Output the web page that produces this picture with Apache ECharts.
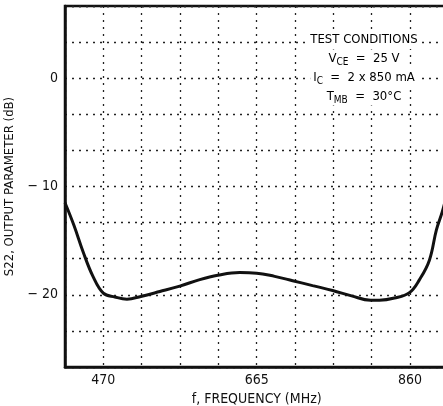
<!DOCTYPE html>
<html>
<head>
<meta charset="utf-8">
<script src="https://cdn.jsdelivr.net/npm/echarts@6/dist/echarts.min.js"></script>
<style>
html,body{margin:0;padding:0;background:#fff;}
#c{width:443px;height:406px;}
</style>
</head>
<body>
<div id="c"></div>
<script>
// ---- data ----
const freqMHz = [421.25, 432.7, 444.1, 456.8, 470, 484.7, 500, 517.7, 541.8, 567.2, 592.6, 615.5, 643.4, 665, 687.8, 710.7, 736, 761.5, 785.6, 809.7, 821.1, 840.2, 859.2, 872, 884.6, 893.5, 901.1, 907.5];
const s22dB   = [-11.5, -13.6, -16.0, -18.3, -19.85, -20.2, -20.4, -20.15, -19.7, -19.2, -18.6, -18.2, -17.95, -18.0, -18.3, -18.7, -19.15, -19.6, -20.1, -20.5, -20.5, -20.3, -19.8, -18.6, -16.8, -14.0, -12.3, -10.5];
const xTickLabels = [470, 665, 860];
const yTickLabels = [0, -10, -20];
const conditions = ['TEST CONDITIONS', 'VCE = 25 V', 'IC = 2 x 850 mA', 'TMB = 30°C'];

// axis extents (grid: 10 x 10 cells)
const xMin = 421.25, xStep = 48.75, xMax = xMin + 10 * xStep;
const yStep = 10 / 3, yMin = -8 * yStep, yMax = 2 * yStep;

const FONT = "'Liberation Sans Narrow', 'DejaVu Sans Condensed', 'Arial Narrow', sans-serif";
const INK = '#111';

const chart = echarts.init(document.getElementById('c'), null, {renderer: 'canvas'});

const richText = {
  n: {fontSize: 13, fontFamily: FONT, color: INK, lineHeight: 16},
  s: {fontSize: 10, fontFamily: FONT, color: INK, lineHeight: 16, padding: [7, 0, 0, 0]}
};

function condLine(label) {
  const m = label.match(/^(V|I|T)(CE|C|MB)( = .*)$/);
  if (!m) return '{n|' + label + '}';
  return '{n|' + m[1] + '}{s|' + m[2] + '}{n|' + m[3].replace(/ = /, '  =  ') + '}';
}

const lineY = [40, 58.5, 77.5, 96.5];
const condGraphics = conditions.map((c, i) => ({
  type: 'text',
  x: 364, y: lineY[i], z: 100,
  style: {
    text: condLine(c),
    rich: richText,
    align: 'center',
    verticalAlign: 'middle',
    backgroundColor: '#fff',
    padding: [1, 3, 1, 3]
  }
}));

const option = {
  backgroundColor: '#fff',
  animation: false,
  grid: {
    left: 65, top: 6, bottom: 39, right: -5.4,
    outerBoundsMode: 'none', containLabel: false,
    show: true, borderColor: INK, borderWidth: 2.5, backgroundColor: 'transparent'
  },
  xAxis: {
    type: 'value', min: xMin, max: xMax, interval: xStep,
    name: 'f, FREQUENCY (MHz)', nameLocation: 'middle', nameGap: 24,
    nameTextStyle: {fontFamily: FONT, fontSize: 14, color: INK},
    axisLine: {show: true, onZero: false, lineStyle: {color: INK, width: 2.5}},
    axisTick: {show: false},
    axisLabel: {
      fontFamily: FONT, fontSize: 14, color: INK, margin: 6,
      formatter: function (v) {
        for (const t of xTickLabels) if (Math.abs(v - t) < 0.01) return String(t);
        return '';
      }
    },
    splitLine: {show: true, lineStyle: {color: '#222', width: 1.3, type: [2, 5]}}
  },
  yAxis: {
    type: 'value', min: yMin, max: yMax, interval: yStep,
    name: 'S22, OUTPUT PARAMETER (dB)', nameLocation: 'middle', nameGap: 46,
    nameTextStyle: {fontFamily: FONT, fontSize: 13, color: INK},
    axisLine: {show: true, onZero: false, lineStyle: {color: INK, width: 2.5}},
    axisTick: {show: false},
    axisLabel: {
      fontFamily: FONT, fontSize: 14, color: INK, margin: 7,
      formatter: function (v) {
        for (const t of yTickLabels) if (Math.abs(v - t) < 0.01) return t === 0 ? '0' : '\u2212 ' + Math.abs(t);
        return '';
      }
    },
    splitLine: {show: true, lineStyle: {color: '#222', width: 1.3, type: [2, 5]}}
  },
  graphic: condGraphics,
  series: [{
    type: 'line',
    data: freqMHz.map((f, i) => [f, s22dB[i]]),
    smooth: 0.4,
    showSymbol: false,
    clip: true,
    lineStyle: {color: INK, width: 3}
  }]
};
chart.setOption(option);
</script>
</body>
</html>
